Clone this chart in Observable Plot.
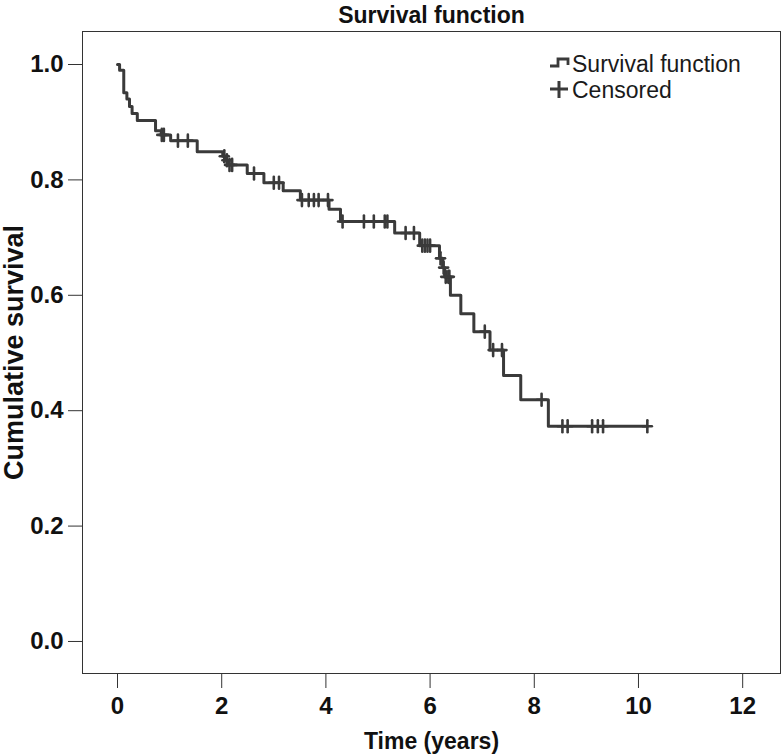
<!DOCTYPE html>
<html>
<head>
<meta charset="utf-8">
<script src="https://cdn.jsdelivr.net/npm/d3@7"></script>
<script src="https://cdn.jsdelivr.net/npm/@observablehq/plot@0.6"></script>
<style>
  html, body { margin: 0; padding: 0; background: #fff; }
  #wrap { position: relative; width: 782px; height: 756px; }
  .leg { position: absolute; font-family: "Liberation Sans", Arial, Helvetica, sans-serif; font-size: 23px; color: #1a1a1a; white-space: nowrap; line-height: 1; }
  .leg svg { position: absolute; }
</style>
</head>
<body>
<div id="wrap"></div>
<script>
// Kaplan–Meier step data (times in years, survival after each drop)
const dropTimes = [0, 0.04, 0.12, 0.18, 0.23, 0.28, 0.38, 0.73, 0.84, 1.02,
  1.53, 2.02, 2.08, 2.14, 2.49, 2.81, 3.18, 3.51, 4.06, 4.28,
  5.32, 5.8, 6.18, 6.24, 6.28, 6.39, 6.59, 6.84, 7.15, 7.41,
  7.74, 8.27];
const survivalValues = [1.0, 0.99, 0.951, 0.94, 0.927, 0.915, 0.903, 0.885, 0.878, 0.868,
  0.849, 0.841, 0.834, 0.826, 0.811, 0.795, 0.781, 0.765, 0.749, 0.728,
  0.708, 0.686, 0.664, 0.648, 0.632, 0.6, 0.568, 0.537, 0.505, 0.461,
  0.419, 0.373];
const endTime = 10.17;
const censorTimes = [0.85, 0.89, 1.16, 1.35, 2.05, 2.1, 2.15, 2.2, 2.62, 3.0,
  3.1, 3.54, 3.67, 3.77, 3.86, 4.04, 4.32, 4.73, 4.92, 5.13,
  5.18, 5.53, 5.69, 5.85, 5.9, 5.95, 6.0, 6.2, 6.26, 6.3,
  6.35, 6.37, 7.05, 7.21, 7.38, 8.14, 8.54, 8.64, 9.11, 9.22,
  9.32, 10.17];
const xTicks = [0, 2, 4, 6, 8, 10, 12];
const yTicks = [0, 0.2, 0.4, 0.6, 0.8, 1.0];
const titleText = "Survival function";
const xLabel = "Time (years)";
const yLabel = "Cumulative survival";
const legendLabels = ["Survival function", "Censored"];

// Build tables
const steps = dropTimes.map((t, i) => ({t, s: survivalValues[i]}));
steps.push({t: endTime, s: survivalValues[survivalValues.length - 1]});
function survAt(t) {
  let s = 1;
  for (let i = 0; i < dropTimes.length; i++) if (dropTimes[i] <= t) s = survivalValues[i];
  return s;
}
const censored = censorTimes.map(t => ({t, s: survAt(t)}));

const ink = "#3a3a3a";
const bar = {draw(ctx, l) { ctx.moveTo(0, 0); ctx.lineTo(0, -l); }};
const chart = Plot.plot({
  width: 782,
  height: 756,
  marginLeft: 82,
  marginRight: 2,
  marginTop: 31,
  marginBottom: 83,
  style: {fontFamily: "'Liberation Sans', Arial, Helvetica, sans-serif", fontSize: "24px", fontWeight: "bold", color: "#111", background: "#fff"},
  x: {domain: [-0.672, 12.726]},
  y: {domain: [-0.0555, 1.0572]},
  marks: [
    Plot.frame({stroke: "#333", strokeWidth: 1}),
    Plot.axisX({ticks: xTicks, tickSize: 15, tickPadding: 8, label: null, stroke: "#333", fontSize: 24, fontWeight: "bold"}),
    Plot.axisY({ticks: yTicks, tickSize: 14, tickPadding: 5, tickFormat: d3.format(".1f"), label: null, stroke: "#333", fontSize: 24, fontWeight: "bold"}),
    Plot.line(steps, {x: "t", y: "s", curve: "step-after", stroke: ink, strokeWidth: 3}),
    Plot.vector(censored, {x: "t", y: "s", length: 12, rotate: 0, anchor: "middle", stroke: ink, strokeWidth: 2.6, shape: bar}),
    Plot.vector(censored, {x: "t", y: "s", length: 9, rotate: 90, anchor: "middle", stroke: ink, strokeWidth: 2.6, shape: bar}),
    Plot.text([titleText], {frameAnchor: "top", dy: -16, lineAnchor: "middle", fontSize: 23, fontWeight: "bold", fill: "#111"}),
    Plot.text([xLabel], {frameAnchor: "bottom", dy: 68, lineAnchor: "middle", fontSize: 23, fontWeight: "bold", fill: "#111"}),
    Plot.text([yLabel], {frameAnchor: "left", dx: -68, rotate: -90, textAnchor: "middle", fontSize: 27, fontWeight: "bold", fill: "#111"})
  ]
});
const wrap = document.getElementById("wrap");
wrap.appendChild(chart);

// Legend (HTML overlay, top-right inside the frame)
const leg1 = document.createElement("div");
leg1.className = "leg";
leg1.style.left = "549px"; leg1.style.top = "53px";
leg1.innerHTML = '<svg width="22" height="14" style="left:0;top:3px"><path d="M1,10 H9 V3 H19 V9" fill="none" stroke="' + ink + '" stroke-width="2.8"/></svg><span style="margin-left:23px">' + legendLabels[0] + '</span>';
wrap.appendChild(leg1);
const leg2 = document.createElement("div");
leg2.className = "leg";
leg2.style.left = "549px"; leg2.style.top = "79px";
leg2.innerHTML = '<svg width="22" height="20" style="left:0;top:1px"><path d="M1,9 H19 M10,1 V18" fill="none" stroke="' + ink + '" stroke-width="3"/></svg><span style="margin-left:23px">' + legendLabels[1] + '</span>';
wrap.appendChild(leg2);
</script>
</body>
</html>
